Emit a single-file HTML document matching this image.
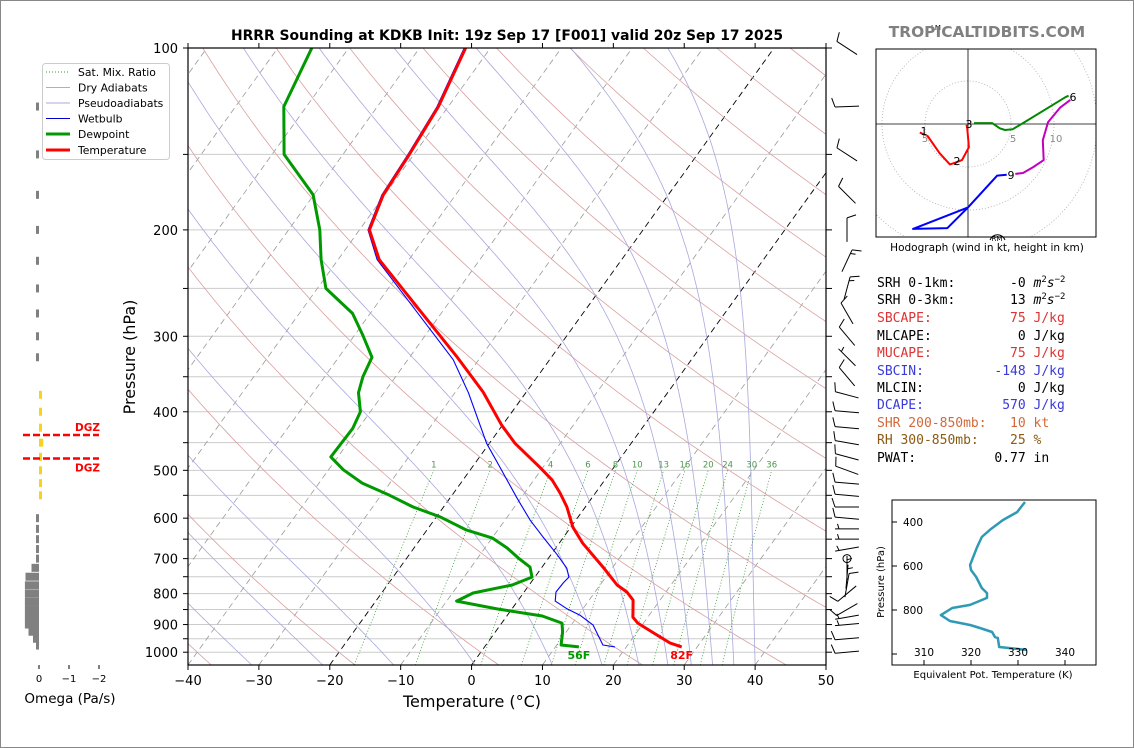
<!DOCTYPE html>
<html><head><meta charset="utf-8"><style>
html,body{margin:0;padding:0;background:#fff}
body{width:1134px;height:748px;overflow:hidden;position:relative;font-family:"DejaVu Sans","Liberation Sans",sans-serif}
svg{position:absolute;left:0;top:0}
</style></head><body>
<svg id="chart" width="1134" height="748" viewBox="0 0 1134 748" xmlns="http://www.w3.org/2000/svg">
<rect x="0.5" y="0.5" width="1133" height="747" fill="#fff" stroke="#888"/>
<defs><clipPath id="mainclip"><rect x="188" y="48" width="638" height="617"/></clipPath>
<clipPath id="hodoclip"><rect x="876" y="49" width="220" height="188"/></clipPath>
<clipPath id="theclip"><rect x="892" y="500" width="204" height="165"/></clipPath></defs>
<g id="bg" clip-path="url(#mainclip)"></g>
<g id="profiles" clip-path="url(#mainclip)"></g>
<g id="axes"></g>
<g id="omega"></g>
<g id="barbs"></g>
<g id="hodo"></g>
<g id="thetae"></g>
<text x="507" y="40" text-anchor="middle" font-size="13.9" font-weight="bold">HRRR Sounding at KDKB Init: 19z Sep 17 [F001] valid 20z Sep 17 2025</text>
<text x="987" y="37" text-anchor="middle" font-size="15.4" font-weight="bold" fill="#808080">TROPICALTIDBITS.COM</text>
<text x="472" y="707" text-anchor="middle" font-size="16">Temperature (°C)</text>
<text transform="translate(135,357) rotate(-90)" text-anchor="middle" font-size="16">Pressure (hPa)</text>
<text x="70" y="703" text-anchor="middle" font-size="13.5">Omega (Pa/s)</text>
<g>
<rect x="42.5" y="63.5" width="127" height="96" rx="3" fill="#fff" stroke="#ccc"/>
<line x1="46" y1="72" x2="70" y2="72" stroke="#3a9a3a" stroke-dasharray="1,2"/>
<text x="78" y="76" font-size="10.8">Sat. Mix. Ratio</text>
<line x1="46" y1="87.5" x2="70" y2="87.5" stroke="#d9a0a0"/>
<text x="78" y="91.5" font-size="10.8">Dry Adiabats</text>
<line x1="46" y1="103" x2="70" y2="103" stroke="#a8a8dd"/>
<text x="78" y="107" font-size="10.8">Pseudoadiabats</text>
<line x1="46" y1="118.5" x2="70" y2="118.5" stroke="#0000cc"/>
<text x="78" y="122.5" font-size="10.8">Wetbulb</text>
<line x1="46" y1="134" x2="70" y2="134" stroke="#009900" stroke-width="3"/>
<text x="78" y="138" font-size="10.8">Dewpoint</text>
<line x1="46" y1="150" x2="70" y2="150" stroke="#ff0000" stroke-width="3"/>
<text x="78" y="154" font-size="10.8">Temperature</text>
</g>
<g font-family="'DejaVu Sans Mono','Liberation Mono',monospace" font-size="13">
<text x="877" y="287" xml:space="preserve">SRH 0-1km:       -0 <tspan font-style="italic">m</tspan><tspan font-size="9" dy="-5">2</tspan><tspan font-style="italic" dy="5">s</tspan><tspan font-size="9" dy="-5">−2</tspan></text>
<text x="877" y="304" xml:space="preserve">SRH 0-3km:       13 <tspan font-style="italic">m</tspan><tspan font-size="9" dy="-5">2</tspan><tspan font-style="italic" dy="5">s</tspan><tspan font-size="9" dy="-5">−2</tspan></text>
<text x="877" y="322" xml:space="preserve" fill="#dd3333">SBCAPE:          75 J/kg</text>
<text x="877" y="340" xml:space="preserve">MLCAPE:           0 J/kg</text>
<text x="877" y="357" xml:space="preserve" fill="#dd3333">MUCAPE:          75 J/kg</text>
<text x="877" y="375" xml:space="preserve" fill="#3a3ad8">SBCIN:         -148 J/kg</text>
<text x="877" y="392" xml:space="preserve">MLCIN:            0 J/kg</text>
<text x="877" y="409" xml:space="preserve" fill="#3a3ad8">DCAPE:          570 J/kg</text>
<text x="877" y="427" xml:space="preserve" fill="#d2693a">SHR 200-850mb:   10 kt</text>
<text x="877" y="444" xml:space="preserve" fill="#8b5a14">RH 300-850mb:    25 %</text>
<text x="877" y="462" xml:space="preserve">PWAT:          0.77 in</text>
</g>
</svg>
<script>
// ---- sounding data (pressure hPa, temperature °C) ----
const tempP = [100,125,151,175,200,224,326,371,421,451,494,519,545,575,621,660,723,774,795,820,875,895,929,966,980];
const tempT = [-63.5,-61.4,-60.6,-60.2,-58.6,-54.2,-33.1,-26.1,-20.1,-16.4,-10.5,-7.4,-5.0,-2.6,0.3,3.3,8.6,12.4,14.5,16.2,17.9,19.2,22.4,25.8,27.8];
const dewP = [100,125,150,175,200,224,250,275,299,325,350,372,400,426,475,499,525,550,575,597,628,647,672,698,723,751,774,798,823,848,871,895,926,973,980];
const dewT = [-85.2,-83.2,-78.3,-70.1,-65.6,-62.4,-58.8,-52.5,-48.8,-45.3,-44.6,-43.6,-41.4,-40.8,-41.0,-37.9,-33.9,-28.8,-24.3,-19.5,-14.4,-10.0,-6.9,-4.3,-1.7,-0.4,-2.4,-7.1,-8.6,-2.1,5.0,8.5,9.5,10.6,13.3];
const wbP = [100,125,151,175,200,224,328,372,451,494,554,604,645,690,726,751,768,795,823,848,868,902,973,980];
const wbT = [-63.7,-61.6,-60.8,-60.4,-58.8,-54.5,-33.6,-28.1,-20.4,-16.1,-10.7,-6.5,-2.9,0.9,3.6,4.8,4.6,4.5,5.3,7.8,10.2,13.1,16.5,18.4];
const sfcLabels = ["56F","82F"];
// ---- axis ticks ----
const xTicks = [-40,-30,-20,-10,0,10,20,30,40,50];
const pLabels = [100,200,300,400,500,600,700,800,900,1000];
const pGrid = [100,150,200,250,300,350,400,450,500,550,600,650,700,750,800,850,900,950,1000];
const mixRatios = [1,2,4,6,8,10,13,16,20,24,30,36];
const dryThetaC = [-40,-20,0,20,40,60,80,100,120,140,160,180,200,220];
const moistStart = [-31,-21,-11,0.5,11.4,18.4,23.6,27.7,31,34,37,40];
// ---- omega ----
const omegaP = [125,150,175,200,225,250,275,300,325,375,400,425,450,475,500,525,550,600,625,650,675,700,725,750,775,800,825,850,875,900,925,950,975];
const omegaV = [0.03,0.06,0.03,0.05,0.02,0.06,0.06,0.08,0.05,-0.04,-0.08,-0.1,-0.14,-0.1,-0.06,-0.05,-0.02,0.01,0.02,0.03,0.05,0.1,0.25,0.45,0.47,0.47,0.47,0.47,0.47,0.47,0.35,0.2,0.05];
const omegaTicks = [0,-1,-2];
const dgzP = [437,478];
// ---- wind barbs ----
const barbP = [100,125,150,175,200,225,250,275,300,325,350,375,400,425,450,475,500,525,550,575,600,625,650,675,725,750,775,800,850,875,900,950,1000];
const barbDir = [303,268,303,315,0,25,15,330,320,315,320,285,275,275,280,285,290,275,275,270,275,270,270,260,0,5,10,230,240,260,265,265,265];
const barbSpd = [10,10,10,10,10,15,15,10,10,5,10,10,10,10,10,10,10,10,10,10,10,5,5,5,5,5,10,10,10,5,5,10,10];
const calmP = [700];
// ---- hodograph (u,v kt) ----
const hodoRedU = [-5.6,-4.7,-3.3,-2.1,-1.5,-0.7,0.1,-0.1,-0.2];
const hodoRedV = [-1.0,-1.4,-3.4,-4.7,-4.5,-4.2,-2.7,-0.3,-0.1];
const hodoGreenU = [0.7,2.8,3.7,4.3,5.2,6.4,11.3,11.7];
const hodoGreenV = [0.1,0.1,-0.5,-0.7,-0.6,0.1,3.1,3.3];
const hodoMagU = [11.9,10.7,9.3,8.7,8.8,7.6,6.4,5.5];
const hodoMagV = [2.8,1.9,0.2,-1.9,-4.2,-5.0,-5.7,-5.8];
const hodoBlueU = [4.5,3.4,0,-6.4,-2.4,0];
const hodoBlueV = [-5.9,-6.0,-9.7,-12.2,-12.1,-9.7];
const hodoRings = [5,10,15,20];
// ---- theta-e ----
const thetaP = [309,355,391,436,468,514,595,618,650,700,723,745,777,791,823,850,868,882,900,923,927,968,973,982];
const thetaV = [331.5,329.8,326.8,324.0,322.3,321.3,319.8,320.0,321.1,322.3,323.4,323.4,319.8,316.0,313.6,315.5,319.8,321.9,324.5,325.1,325.7,326.0,328.3,331.9];
const thetaXTicks = [310,320,330,340];
const thetaPTicks = [400,600,800,1000];

const NS="http://www.w3.org/2000/svg";
function mk(parent, tag, attrs){const e=document.createElementNS(NS,tag);for(const k in attrs)e.setAttribute(k,attrs[k]);parent.appendChild(e);return e;}
const Y = p => 48 + 604.2*Math.log10(p/100);
const X = (T,p) => 188 + (T+40)*7.089 + 0.72*(665 - Y(p));
const pathFrom = pts => pts.map((q,i)=>(i?'L':'M')+q[0].toFixed(1)+','+q[1].toFixed(1)).join('');

const bg=document.getElementById('bg');
pGrid.forEach(p=>{const e=mk(bg,'line',{x1:188,x2:826,y1:Y(p),y2:Y(p),stroke:'#cccccc','stroke-width':1});

});
for(let T=-140;T<=50;T+=10){const special=(T===0||T===-20);
const e=mk(bg,'line',{x1:X(T,1050),y1:665,x2:X(T,100),y2:48,stroke:special?'#000':'#999','stroke-width':special?0.9:0.8,'stroke-dasharray':'6,4'});

}
dryThetaC.forEach(tc=>{const th=tc+273.15;const pts=[];for(let p=1050;p>=100;p-=10){pts.push([X(th*Math.pow(p/1000,0.2857)-273.15,p),Y(p)]);}
const e=mk(bg,'path',{d:pathFrom(pts),fill:'none',stroke:'#d9a0a0','stroke-width':0.8});

});
function es(Tc){return 6.112*Math.exp(17.67*Tc/(Tc+243.5));}
moistStart.forEach(t0=>{let T=t0+273.15;const pts=[];for(let p=1050;p>=100;p-=2){pts.push([X(T-273.15,p),Y(p)]);
const e_=es(T-273.15);const rs=0.622*e_/(p-e_);const dTdp=(287*T+2.501e6*rs)/(p*(1004+2.501e6*2.501e6*rs*0.622/(287*T*T)));T-=2*dTdp;}
const e=mk(bg,'path',{d:pathFrom(pts),fill:'none',stroke:'#a8a8dd','stroke-width':0.8});

});
mixRatios.forEach(w=>{const pts=[];for(let p=1050;p>=500;p-=10){const e_=w*p/(622+w);const l=Math.log(e_/6.112);const Td=243.5*l/(17.67-l);pts.push([X(Td,p),Y(p)]);}
const e=mk(bg,'path',{d:pathFrom(pts),fill:'none',stroke:'#3a9a3a','stroke-width':0.8,'stroke-dasharray':'1,2'});


const top=pts[pts.length-1];const t=mk(bg,'text',{x:top[0],y:top[1]-3,'text-anchor':'middle','font-size':8.5,fill:'#4a9a4a'});t.textContent=w;

});

const prof=document.getElementById('profiles');
function drawProfile(P,T,color,w,name){const e=mk(prof,'path',{d:pathFrom(P.map((p,i)=>[X(T[i],p),Y(p)])),fill:'none',stroke:color,'stroke-width':w,'stroke-linejoin':'round'});

}
drawProfile(wbP,wbT,'#0000ff',1.1,'wetbulb-line');
drawProfile(dewP,dewT,'#009900',3,'dewpoint-line');
drawProfile(tempP,tempT,'#ff0000',3,'temperature-line');
const ax=document.getElementById('axes');
{const n=dewP.length-1;const t=mk(ax,'text',{x:X(dewT[n],dewP[n]),y:Y(dewP[n])+12,'text-anchor':'middle','font-size':11,'font-weight':'bold',fill:'#009900'});t.textContent=sfcLabels[0];


const m=tempP.length-1;const t2=mk(ax,'text',{x:X(tempT[m],tempP[m]),y:Y(tempP[m])+12,'text-anchor':'middle','font-size':11,'font-weight':'bold',fill:'#ff0000'});t2.textContent=sfcLabels[1];

}

{const r=mk(ax,'rect',{x:188,y:48,width:638,height:617,fill:'none',stroke:'#000','stroke-width':1.2});

}
xTicks.forEach(T=>{const x=188+(T+40)*7.089;
const a=mk(ax,'line',{x1:x,x2:x,y1:665,y2:670,stroke:'#000'});
const b=mk(ax,'line',{x1:x,x2:x,y1:48,y2:43,stroke:'#000'});
const t=mk(ax,'text',{x:x,y:685,'text-anchor':'middle','font-size':13});t.textContent=(T<0?'\u2212'+(-T):T);

});
pGrid.forEach(p=>{const y=Y(p);
const a=mk(ax,'line',{x1:183,x2:188,y1:y,y2:y,stroke:'#000'});
const b=mk(ax,'line',{x1:826,x2:832,y1:y,y2:y,stroke:'#000'});});
pLabels.forEach(p=>{const t=mk(ax,'text',{x:178,y:Y(p)+5,'text-anchor':'end','font-size':13});t.textContent=p;

});

const om=document.getElementById('omega');
const OX = v => 39 - v*30;
omegaP.forEach((p,i)=>{const v=omegaV[i];const x1=Math.min(OX(0),OX(v)),x2=Math.max(OX(0),OX(v));
const w=Math.max(3,x2-x1);const xs=v<0?x1:x2-w;
const r=mk(om,'rect',{x:xs,y:Y(p)-4,width:w,height:8,fill:v<0?'#f7d31f':'#808080'});

});
omegaTicks.forEach(v=>{const x=OX(v);const l=mk(om,'line',{x1:x,x2:x,y1:665,y2:669,stroke:'#000'});


const t=mk(om,'text',{x:x,y:682,'text-anchor':'middle','font-size':10});t.textContent=v<0?'\u2212'+(-v):v;

});
dgzP.forEach((p,i)=>{const y=Y(p);const l=mk(om,'line',{x1:23,x2:99,y1:y,y2:y,stroke:'#ff0000','stroke-width':2.5,'stroke-dasharray':'7,3'});


const t=mk(om,'text',{x:100,y:i===0?y-4:y+13,'text-anchor':'end','font-size':10.5,'font-weight':'bold',fill:'#ff0000'});t.textContent='DGZ';

});

const bb=document.getElementById('barbs');
barbP.forEach((p,i)=>{const y=Y(p),cx=847;const a=barbDir[i]*Math.PI/180;const ux=Math.sin(a),uy=-Math.cos(a);const L=24;
const sx=cx-ux*L/2,sy=y-uy*L/2,ex=cx+ux*L/2,ey=y+uy*L/2;
const s=mk(bb,'line',{x1:sx,y1:sy,x2:ex,y2:ey,stroke:'#000','stroke-width':1});


let spd=barbSpd[i];let k=0;const px=-uy,py=ux;
while(spd>=10){const bx=ex-ux*k*4,by=ey-uy*k*4;const f=mk(bb,'line',{x1:bx,y1:by,x2:bx+px*9+ux*3,y2:by+py*9+uy*3,stroke:'#000','stroke-width':1});

spd-=10;k++;}
if(spd>=5){const bx=ex-ux*(k*4+(k?0:4)),by=ey-uy*(k*4+(k?0:4));const f=mk(bb,'line',{x1:bx,y1:by,x2:bx+px*5+ux*1.5,y2:by+py*5+uy*1.5,stroke:'#000','stroke-width':1});

}});
calmP.forEach(p=>{const c=mk(bb,'circle',{cx:847,cy:Y(p),r:4,fill:'none',stroke:'#000'});

});

const hd=document.getElementById('hodo');
const HX=u=>968+u*8.6, HY=v=>124-v*8.6;
const hc=mk(hd,'g',{'clip-path':'url(#hodoclip)'});


hodoRings.forEach(r=>{const c=mk(hc,'circle',{cx:968,cy:124,r:r*8.6,fill:'none',stroke:'#aaa','stroke-width':0.8,'stroke-dasharray':'1,2'});

});
{const a=mk(hc,'line',{x1:876,x2:1096,y1:124,y2:124,stroke:'#000','stroke-width':0.8});
const b=mk(hc,'line',{x1:968,x2:968,y1:49,y2:237,stroke:'#000','stroke-width':0.8});}
[[hodoRedU,hodoRedV,'#ff0000','hodograph-0-3km'],[hodoGreenU,hodoGreenV,'#008800','hodograph-3-6km'],[hodoMagU,hodoMagV,'#c000c0','hodograph-6-9km'],[hodoBlueU,hodoBlueV,'#0000ff','hodograph-9-12km']].forEach(s=>{
const e=mk(hc,'path',{d:pathFrom(s[0].map((u,i)=>[HX(u),HY(s[1][i])])),fill:'none',stroke:s[2],'stroke-width':2,'stroke-linejoin':'round'});

});
[['5',925,142],['5',1013,142],['10',1056,142]].forEach(l=>{const t=mk(hc,'text',{x:l[1],y:l[2],'text-anchor':'middle','font-size':10,fill:'#888'});t.textContent=l[0];

});
[['1',924,135],['2',957,165],['3',969,128],['6',1073,101],['9',1011,179]].forEach(l=>{const t=mk(hc,'text',{x:l[1],y:l[2],'text-anchor':'middle','font-size':11});t.textContent=l[0];

});
{const c=mk(hd,'path',{d:'M990,240 A8,8 0 0 1 1005,240',fill:'none',stroke:'#000'});
const t=mk(hd,'text',{x:997,y:241,'text-anchor':'middle','font-size':7});t.textContent='RM';
const t2=mk(hd,'text',{x:936,y:30,'text-anchor':'middle','font-size':7});t2.textContent='LM';
const r=mk(hd,'rect',{x:876,y:49,width:220,height:188,fill:'none',stroke:'#000','stroke-width':1});
const cap=mk(hd,'text',{x:987,y:251,'text-anchor':'middle','font-size':10.5});cap.textContent='Hodograph (wind in kt, height in km)';}

const te=document.getElementById('thetae');
const TX=k=>924+(k-310)*4.7, TY=p=>522+(p-400)*0.22;
{const r=mk(te,'rect',{x:892,y:500,width:204,height:165,fill:'#fff',stroke:'#000','stroke-width':1});}
{const g=mk(te,'g',{'clip-path':'url(#theclip)'});
const e=mk(g,'path',{d:pathFrom(thetaP.map((p,i)=>[TX(thetaV[i]),TY(p)])),fill:'none',stroke:'#2e9ab5','stroke-width':2.5,'stroke-linejoin':'round'});

}
thetaPTicks.forEach(p=>{const y=TY(p);const l=mk(te,'line',{x1:892,x2:897,y1:y,y2:y,stroke:'#000'});
const t=mk(te,'text',{x:923,y:y+4,'text-anchor':'end','font-size':10.5});t.textContent=p===1000?'':p;

});
thetaXTicks.forEach(k=>{const x=TX(k);const l=mk(te,'line',{x1:x,x2:x,y1:665,y2:660,stroke:'#000'});
const t=mk(te,'text',{x:x,y:656,'text-anchor':'middle','font-size':10.5});t.textContent=k;

});
{const t=mk(te,'text',{transform:'translate(884,582) rotate(-90)','text-anchor':'middle','font-size':10});t.textContent='Pressure (hPa)';
const t2=mk(te,'text',{x:993,y:678,'text-anchor':'middle','font-size':10});t2.textContent='Equivalent Pot. Temperature (K)';}
</script>
</body></html>
